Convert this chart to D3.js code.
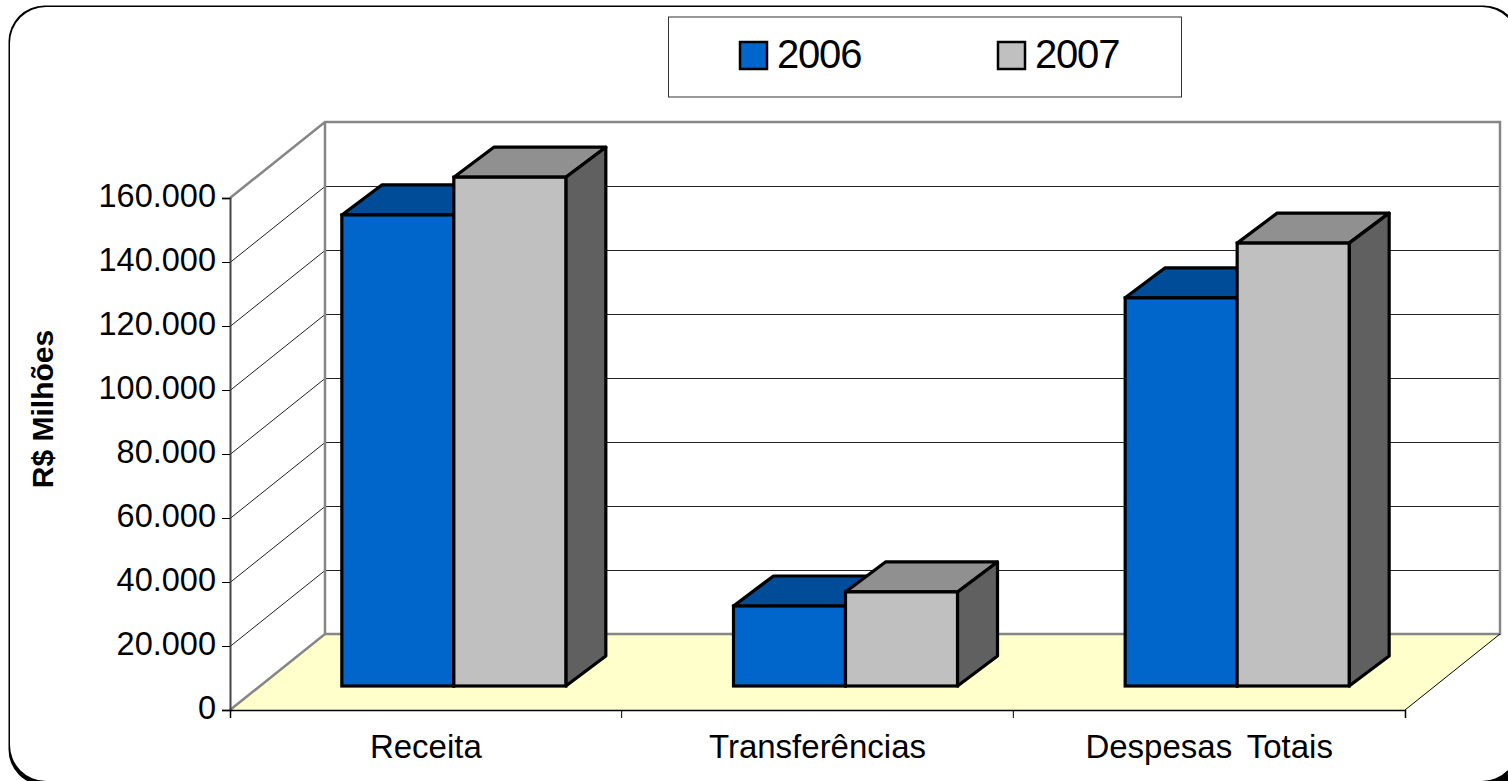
<!DOCTYPE html>
<html>
<head>
<meta charset="utf-8">
<script src="https://cdn.jsdelivr.net/npm/d3@7"></script>
<style>
  html, body { margin: 0; padding: 0; background: #fff; }
  svg { display: block; }
  text { font-family: "Liberation Sans", Arial, sans-serif; fill: #000; }
</style>
</head>
<body>
<div id="chart"></div>
<script>
// values
var categories = ["Receita", "Transferências", "Despesas Totais"];
var seriesNames = ["2006", "2007"];
var values2006 = [147200, 25000, 121300];
var values2007 = [159000, 29400, 138400];
var yTicks = [0, 20000, 40000, 60000, 80000, 100000, 120000, 140000, 160000];
var yTitle = "R$ Milhões";

var svgWidth = 1508;
var svgHeight = 781;

var colors = {
    "2006": { front: "#0066cc", top: "#004c99", side: "#004c99" },
    "2007": { front: "#c0c0c0", top: "#909090", side: "#606060" }
};

// oblique 3d box: the floor runs back by depth.x / depth.y
var depth = { x: 95, y: -76 };
var barDepth = { x: 40, y: -30 };
var barLift = 24;       // gap from front floor edge to front of the bars
var barShift = 28;      // bars sit a little to the right of the band centre
var barWidth = 112;

var xScale = d3.scaleBand().domain(categories).range([230, 1405]);
var yScale = d3.scaleLinear().domain([0, 160000]).range([710, 198]);

var svg = d3.select("#chart")
    .append("svg")
    .attr("width", svgWidth)
    .attr("height", svgHeight);

// rounded frame with a heavy shadow along the bottom, cut off by the picture edge
svg.append("rect")
    .attr("x", 1470).attr("y", 760)
    .attr("width", 38).attr("height", 21)
    .attr("fill", "#000");
svg.append("rect")
    .attr("x", 8.5).attr("y", 5.5)
    .attr("width", 1511.5).attr("height", 780)
    .attr("rx", 36)
    .attr("fill", "#000");
svg.append("rect")
    .attr("x", 10).attr("y", 7)
    .attr("width", 1508).attr("height", 774)
    .attr("rx", 36)
    .attr("fill", "#fff");

var y0 = yScale(0);
var yTop = yScale(160000);
var x0 = xScale.range()[0];
var x1 = xScale.range()[1];

function pts(list) {
    return list.map(function(p) { return p.join(","); }).join(" ");
}

// floor
svg.append("polygon")
    .attr("points", pts([[x0, y0], [x1, y0], [x1 + depth.x, y0 + depth.y], [x0 + depth.x, y0 + depth.y]]))
    .attr("fill", "#ffffcc");

// gridlines on the side and back walls
var grid = svg.append("g").attr("transform", "translate(0,0.5)");
yTicks.slice(1, -1).forEach(function(t) {
    grid.append("polyline")
        .attr("points", pts([[x0, yScale(t)], [x0 + depth.x, yScale(t) + depth.y], [x1 + depth.x, yScale(t) + depth.y]]))
        .attr("fill", "none")
        .attr("stroke", "#222")
        .attr("stroke-width", 1);
});

// wall outline
svg.append("path")
    .attr("d", "M" + x0 + "," + y0 + "L" + (x0 + depth.x) + "," + (y0 + depth.y) +
        "L" + (x1 + depth.x) + "," + (y0 + depth.y) +
        "L" + (x1 + depth.x) + "," + (yTop + depth.y) +
        "L" + (x0 + depth.x) + "," + (yTop + depth.y) +
        "L" + x0 + "," + yTop +
        "M" + (x0 + depth.x) + "," + (yTop + depth.y) + "L" + (x0 + depth.x) + "," + (y0 + depth.y))
    .attr("fill", "none")
    .attr("stroke", "#868686")
    .attr("stroke-width", 2.5);

// front edge of the floor to the right
svg.append("line")
    .attr("x1", x1).attr("y1", y0)
    .attr("x2", x1 + depth.x).attr("y2", y0 + depth.y)
    .attr("stroke", "#000");

// axes
var yAxis = d3.axisLeft(yScale)
    .tickValues(yTicks)
    .tickSize(8)
    .tickPadding(6)
    .tickFormat(function(d) { return d === 0 ? "0" : d3.format(",")(d).replace(/,/g, "."); });
var yG = svg.append("g")
    .attr("transform", "translate(" + x0 + ",0)")
    .call(yAxis);
yG.select(".domain").attr("stroke", "#444").attr("stroke-width", 2);
yG.selectAll("text")
    .attr("y", -2)
    .style("font-size", "32.5px")
    .style("font-family", '"Liberation Sans"')
    .attr("fill", "#000");

var xAxis = d3.axisBottom(xScale).tickSize(8).tickSizeOuter(8).tickPadding(17);
var xG = svg.append("g")
    .attr("transform", "translate(0," + y0 + ")")
    .call(xAxis);
xG.selectAll(".tick line").remove();
xG.select(".domain").attr("stroke", "#000").attr("stroke-width", 1.5);
xG.selectAll("text")
    .style("font-size", "33px")
    .style("word-spacing", "6px")
    .style("font-family", '"Liberation Sans"')
    .attr("fill", "#000");

// inner category ticks on the band boundaries
svg.selectAll(".catTick")
    .data(categories.slice(1))
    .enter()
    .append("line")
    .attr("class", "catTick")
    .attr("x1", function(d) { return xScale(d); })
    .attr("x2", function(d) { return xScale(d); })
    .attr("y1", y0)
    .attr("y2", y0 + 8)
    .attr("stroke", "#000");

// axis title
svg.append("text")
    .attr("transform", "translate(53,409) rotate(-90)")
    .attr("text-anchor", "middle")
    .style("font-size", "30px")
    .style("font-weight", "bold")
    .text(yTitle);

// 3d bars
function drawBar(group, left, value, color) {
    var base = y0 - barLift;
    var top = base - (y0 - yScale(value));
    var right = left + barWidth;
    group.append("polygon")
        .attr("points", pts([[left, top], [right, top], [right + barDepth.x, top + barDepth.y], [left + barDepth.x, top + barDepth.y]]))
        .attr("fill", color.top)
        .attr("stroke", "#000").attr("stroke-width", 3.2).attr("stroke-linejoin", "round");
    group.append("polygon")
        .attr("points", pts([[right, top], [right + barDepth.x, top + barDepth.y], [right + barDepth.x, base + barDepth.y], [right, base]]))
        .attr("fill", color.side)
        .attr("stroke", "#000").attr("stroke-width", 3.2).attr("stroke-linejoin", "round");
    group.append("rect")
        .attr("x", left).attr("y", top)
        .attr("width", barWidth).attr("height", base - top)
        .attr("fill", color.front)
        .attr("stroke", "#000").attr("stroke-width", 3.2);
}

categories.forEach(function(cat, i) {
    var g = svg.append("g");
    var mid = xScale(cat) + xScale.bandwidth() / 2 + barShift;
    drawBar(g, mid - barWidth, values2006[i], colors["2006"]);
    drawBar(g, mid, values2007[i], colors["2007"]);
});

// legend
svg.append("rect")
    .attr("x", 668.5).attr("y", 17)
    .attr("width", 513).attr("height", 80)
    .attr("fill", "#fff")
    .attr("stroke", "#333").attr("stroke-width", 1);

var legendX = d3.scalePoint().domain(seriesNames).range([739, 997]);
seriesNames.forEach(function(name) {
    svg.append("rect")
        .attr("x", legendX(name) + 1).attr("y", 42)
        .attr("width", 27).attr("height", 27)
        .attr("fill", colors[name].front)
        .attr("stroke", "#000").attr("stroke-width", 2.5);
    svg.append("text")
        .attr("x", legendX(name) + 38)
        .attr("y", 68)
        .style("font-size", "40px")
        .style("letter-spacing", "-1.2px")
        .text(name);
});
</script>
</body>
</html>
